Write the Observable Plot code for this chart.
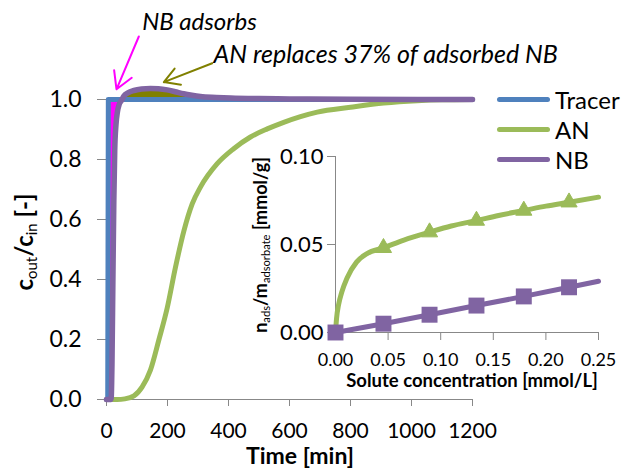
<!DOCTYPE html>
<html><head><meta charset="utf-8">
<script src="https://cdn.jsdelivr.net/npm/d3@7"></script>
<script src="https://cdn.jsdelivr.net/npm/@observablehq/plot@0.6"></script>
<style>
body{margin:0;background:#fff;font-family:Lato,sans-serif}
#wrap{position:relative;width:625px;height:468px;overflow:hidden;background:#fff}
.abs{position:absolute;white-space:nowrap;line-height:1;color:#000}
.sub{font-size:0.62em;position:relative;top:0.3em;font-weight:normal}
.sw{position:absolute;height:5px;border-radius:3px}
</style></head><body>
<div id="wrap"></div>
<script>
// ---- main breakthrough curves (time [min], c_out/c_in) ----
const tracerTime = [0, 4, 6, 1200];
const tracerVal  = [0, 0, 1, 1];
const anTime = [0, 35, 60, 90, 117, 144, 172, 199, 226, 254, 281, 308, 363, 417, 472, 527, 581, 636, 691, 800, 909, 1019, 1100, 1200];
const anVal  = [0, 0, 0.002, 0.012, 0.042, 0.098, 0.2, 0.305, 0.44, 0.563, 0.652, 0.708, 0.786, 0.836, 0.875, 0.902, 0.924, 0.943, 0.958, 0.974, 0.988, 0.996, 0.999, 1.0];
const nbTime = [0, 15, 18, 21, 24, 27, 31, 36, 42, 50, 57, 70, 90, 115, 144, 170, 199, 225, 253, 280, 308, 360, 407, 500, 600, 800, 1200];
const nbVal  = [0, 0, 0.12, 0.4, 0.66, 0.83, 0.915, 0.96, 0.985, 0.998, 1.012, 1.022, 1.03, 1.035, 1.037, 1.036, 1.032, 1.026, 1.019, 1.014, 1.01, 1.007, 1.005, 1.003, 1.002, 1.001, 1.0];
const xTicks = [0, 200, 400, 600, 800, 1000, 1200];
const yTicks = [0, 0.2, 0.4, 0.6, 0.8, 1.0];

// ---- inset isotherms (solute concentration [mmol/L], loading [mmol/g]) ----
const anIsoConc = [0, 0.001, 0.003, 0.006, 0.011, 0.02, 0.03, 0.0456, 0.065, 0.0894, 0.11, 0.134, 0.155, 0.179, 0.2, 0.222, 0.25];
const anIsoLoad = [0, 0.008, 0.016, 0.023, 0.031, 0.04, 0.0448, 0.0481, 0.0525, 0.057, 0.0605, 0.0636, 0.0665, 0.0693, 0.0718, 0.074, 0.0769];
const anPtConc = [0.0456, 0.0894, 0.134, 0.179, 0.222];
const anPtLoad = [0.0481, 0.057, 0.0636, 0.0693, 0.074];
const nbIsoConc = [0, 0.0456, 0.0894, 0.134, 0.179, 0.222, 0.25];
const nbIsoLoad = [0, 0.005, 0.0101, 0.0153, 0.0205, 0.0257, 0.0291];
const nbPtConc = [0, 0.0456, 0.0894, 0.134, 0.179, 0.222];
const nbPtLoad = [0, 0.005, 0.0101, 0.0153, 0.0205, 0.0257];
const insetXTicks = [0, 0.05, 0.1, 0.15, 0.2, 0.25];
const insetYTicks = [0, 0.05, 0.1];

// ---- legend & annotations ----
const seriesNames  = ["Tracer", "AN", "NB"];
const seriesColors = ["#4F81BD", "#9BBB59", "#8064A2"];
const noteTexts = ["NB adsorbs", "AN replaces 37% of adsorbed NB"];
const noteTime  = [117, 351];
const noteVal   = [1.257, 1.148];
const arrowColors = ["#FF00FF", "#808000"];
const arrowFromTime = [106, 346.6];
const arrowFromVal  = [1.21, 1.121];
const arrowToTime   = [32.8, 187.9];
const arrowToVal    = [1.034, 1.058];

const pairs = (xs, ys, kx, ky) => xs.map((x, i) => ({[kx]: x, [ky]: ys[i]}));
const tracer = pairs(tracerTime, tracerVal, "t", "v");
const an = pairs(anTime, anVal, "t", "v");
const nb = pairs(nbTime, nbVal, "t", "v");
const notes = noteTexts.map((s, i) => ({s, t: noteTime[i], v: noteVal[i]}));
const arrows = arrowColors.map((c, i) => ({c, x1: arrowFromTime[i], y1: arrowFromVal[i], x2: arrowToTime[i], y2: arrowToVal[i]}));

const main = Plot.plot({
  width: 625, height: 468,
  marginLeft: 106, marginRight: 153, marginTop: 99, marginBottom: 69,
  x: {domain: [0, 1200]},
  y: {domain: [0, 1]},
  style: {fontFamily: "Lato", fontSize: "22px", background: "transparent", overflow: "visible"},
  marks: [
    Plot.areaY(nb.filter(d => d.t <= 50), {x: "t", y1: "v", y2: 1, fill: "#FF00FF", curve: "monotone-x"}),
    Plot.areaY(nb.filter(d => d.t >= 50 && d.t <= 800), {x: "t", y1: 1, y2: "v", fill: "#808000", curve: "monotone-x"}),
    Plot.ruleX([0], {stroke: "#888"}),
    Plot.ruleY([0], {stroke: "#888"}),
    Plot.axisX({ticks: xTicks, tickFormat: d => String(d), tickSize: 7, tickPadding: 17, stroke: "#888", fill: "#000", label: null, fontSize: 21}),
    Plot.axisY({ticks: yTicks, tickFormat: d3.format(".1f"), tickSize: 9, tickPadding: 16, stroke: "#888", fill: "#000", label: null, fontSize: 23}),
    Plot.line(tracer, {x: "t", y: "v", stroke: seriesColors[0], strokeWidth: 5}),
    Plot.line(an, {x: "t", y: "v", stroke: seriesColors[1], strokeWidth: 5, curve: "monotone-x"}),
    Plot.line(nb, {x: "t", y: "v", stroke: seriesColors[2], strokeWidth: 5.5, curve: "monotone-x"}),
    ...arrows.map(a => Plot.arrow([a], {x1: "x1", y1: "y1", x2: "x2", y2: "y2", stroke: a.c, strokeWidth: 2, headLength: 20, headAngle: 60})),
    Plot.text(notes.slice(0, 1), {x: "t", y: "v", text: "s", textAnchor: "start", lineAnchor: "middle", fontSize: 24, fontStyle: "italic", fill: "#000"}),
    Plot.text(notes.slice(1), {x: "t", y: "v", text: "s", textAnchor: "start", lineAnchor: "middle", fontSize: 25, fontStyle: "italic", fill: "#000"})
  ]
});

const inset = Plot.plot({
  width: 375, height: 260,
  marginLeft: 85, marginRight: 27, marginTop: 16, marginBottom: 68,
  x: {domain: [0, 0.25]},
  y: {domain: [0, 0.1]},
  style: {fontFamily: "Lato", background: "transparent", overflow: "visible"},
  marks: [
    Plot.ruleX([0], {stroke: "#888"}),
    Plot.ruleY([0], {stroke: "#888"}),
    Plot.axisX({ticks: insetXTicks, tickFormat: d3.format(".2f"), tickSize: 8, tickPadding: 13, stroke: "#888", fill: "#000", label: null, fontSize: 18}),
    Plot.axisY({ticks: insetYTicks, tickFormat: d3.format(".2f"), tickSize: 8, tickPadding: 4, stroke: "#888", fill: "#000", label: null, fontSize: 22}),
    Plot.line(pairs(anIsoConc, anIsoLoad, "c", "q"), {x: "c", y: "q", stroke: seriesColors[1], strokeWidth: 5, curve: "monotone-x"}),
    Plot.dot(pairs(anPtConc, anPtLoad, "c", "q"), {x: "c", y: "q", symbol: "triangle", r: 6, fill: seriesColors[1], stroke: seriesColors[1], strokeWidth: 1}),
    Plot.line(pairs(nbIsoConc, nbIsoLoad, "c", "q"), {x: "c", y: "q", stroke: seriesColors[2], strokeWidth: 5}),
    Plot.dot(pairs(nbPtConc, nbPtLoad, "c", "q"), {x: "c", y: "q", symbol: "square", r: 9, fill: seriesColors[2]})
  ]
});

const wrap = document.getElementById("wrap");
main.style.position = "absolute"; main.style.left = "0px"; main.style.top = "0px";
wrap.appendChild(main);
const insetBox = document.createElement("div");
insetBox.style.cssText = "position:absolute;left:250px;top:140px;width:375px;height:260px";
inset.style.maxWidth = "none";
insetBox.appendChild(inset);
wrap.appendChild(insetBox);

function label(html, css) {
  const d = document.createElement("div");
  d.className = "abs";
  d.innerHTML = html;
  d.style.cssText += css;
  wrap.appendChild(d);
  return d;
}
// axis titles
label('c<span class="sub">out</span>/c<span class="sub">in</span> [-]',
  "left:24px;top:242px;font-size:24px;font-weight:bold;transform:translate(-50%,-50%) rotate(-90deg);");
label('Time [min]', "left:300px;top:444px;font-size:23px;font-weight:bold;transform:translateX(-50%);");
label('n<span class="sub">ads</span>/m<span class="sub">adsorbate</span> [mmol/g]',
  "left:260px;top:245px;font-size:18px;font-weight:bold;transform:translate(-50%,-50%) rotate(-90deg);");
label('Solute concentration [mmol/L]', "left:472px;top:371px;font-size:18.5px;font-weight:bold;transform:translateX(-50%);");

// legend
const legendY = [99.5, 129.5, 159.5];
seriesNames.forEach((name, i) => {
  const sw = document.createElement("div");
  sw.className = "sw";
  sw.style.cssText += `left:497px;width:53px;top:${legendY[i] - 2.5}px;background:${seriesColors[i]};`;
  wrap.appendChild(sw);
  label(name, `left:555px;top:${legendY[i] - 12}px;font-size:24px;`);
});
</script>
</body></html>
